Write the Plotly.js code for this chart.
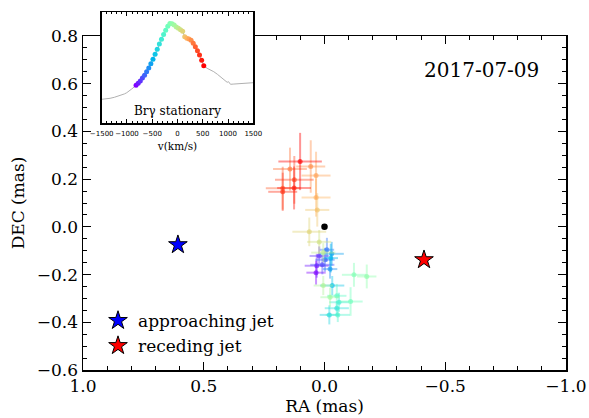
<!DOCTYPE html>
<html>
<head>
<meta charset="utf-8">
<script src="https://cdn.plot.ly/plotly-3.0.1.min.js"></script>
<style>html,body{margin:0;padding:0;background:#fff;}#chart{width:589px;height:418px;}</style>
</head>
<body>
<div id="chart"></div>
<script>
// ---- Data ----
// Spectral channel velocities (km/s) of the colored channels
const chanVel = [-820, -778, -736, -694, -652, -611, -569, -527, -485, -443, -401, -359, -317, -275, -234, -192, -150,
                 -108, -66, -24, 18, 60, 102, 143, 185, 227, 269, 311, 353, 395, 436, 478, 520];
// Normalized flux of the colored channels
const chanFlux = [1.070, 1.080, 1.092, 1.106, 1.120, 1.138, 1.157, 1.178, 1.200, 1.225, 1.250, 1.276, 1.300, 1.324, 1.345, 1.365, 1.379,
                  1.378, 1.372, 1.362, 1.355, 1.348, 1.340, 1.313, 1.305, 1.302, 1.295, 1.280, 1.263, 1.243, 1.222, 1.195, 1.168];
// Full spectrum (gray line)
const specV = [-1500, -1400, -1335, -1250, -1136, -1050, -1004, -950, -904, -838, -778, -736, -694, -652, -611, -569, -527, -485,
               -443, -401, -359, -317, -275, -234, -192, -150, -108, -66, -24, 18, 60, 102, 143, 185, 227, 269, 311, 353, 395,
               436, 478, 520, 586, 650, 718, 790, 851, 917, 960, 983, 1010, 1049, 1100, 1182, 1250, 1314, 1400, 1447, 1500];
const specF = [1.000, 1.002, 1.005, 1.010, 1.018, 1.027, 1.033, 1.042, 1.052, 1.066, 1.080, 1.092, 1.106, 1.120, 1.138, 1.157, 1.178, 1.200,
               1.225, 1.250, 1.276, 1.300, 1.324, 1.345, 1.365, 1.379, 1.378, 1.372, 1.362, 1.355, 1.348, 1.340, 1.313, 1.305, 1.302, 1.295, 1.280, 1.263, 1.243,
               1.222, 1.195, 1.168, 1.155, 1.147, 1.138, 1.125, 1.113, 1.097, 1.090, 1.085, 1.088, 1.075, 1.076, 1.077, 1.077, 1.078, 1.080, 1.081, 1.083];

// Photocentre offsets per channel (mas)
const ra  = [0.035, 0.032, 0.022, 0.009, -0.002, -0.010, -0.023, -0.030, -0.026, -0.032, -0.020, -0.051, -0.060, -0.055, -0.051, -0.108,
             -0.122, -0.175, -0.023, 0.005, 0.005, 0.022, 0.063, 0.030, 0.035, 0.035, 0.057, 0.143, 0.173, 0.125, 0.173, 0.126, 0.101];
const dec = [-0.192, -0.163, -0.122, -0.159, -0.138, -0.096, -0.177, -0.113, -0.131, -0.246, -0.369, -0.341, -0.316, -0.369, -0.289, -0.313,
             -0.201, -0.208, -0.295, -0.246, -0.108, -0.063, -0.021, 0.071, 0.123, 0.215, 0.253, 0.242, 0.162, 0.197, 0.147, 0.163, 0.274];
const raErr  = [0.04, 0.05, 0.04, 0.05, 0.04, 0.03, 0.03, 0.05, 0.03, 0.05, 0.04, 0.05, 0.04, 0.05, 0.04, 0.05,
                0.05, 0.04, 0.04, 0.04, 0.05, 0.05, 0.07, 0.05, 0.06, 0.06, 0.06, 0.07, 0.07, 0.08, 0.06, 0.07, 0.09];
const decErr = [0.05, 0.05, 0.04, 0.04, 0.05, 0.05, 0.04, 0.05, 0.06, 0.04, 0.04, 0.03, 0.04, 0.03, 0.05, 0.06,
                0.05, 0.05, 0.04, 0.04, 0.04, 0.05, 0.06, 0.07, 0.08, 0.10, 0.11, 0.09, 0.09, 0.10, 0.08, 0.09, 0.12];

// Jets and continuum centre
const jetNames = ['approaching jet', 'receding jet'];
const jetRA  = [0.607, -0.412];
const jetDEC = [-0.075, -0.138];
const jetColors = ['#0000ff', '#ff0000'];
const centreRA = [0.0];
const centreDEC = [0.0];

const dateLabel = '2017-07-09';
const insetLabel = 'Br\u03b3 stationary';

// ---- Style helpers ----
function rainbow(f) { // matplotlib "rainbow" colormap
  const r = Math.min(1, Math.abs(2 * f - 0.5));
  const g = Math.sin(Math.PI * f);
  const b = Math.cos(Math.PI * f / 2);
  return [Math.round(255 * r), Math.round(255 * g), Math.round(255 * b)];
}
const vmin = chanVel[0], vmax = chanVel[chanVel.length - 1];
function chanColor(i, a) {
  const c = rainbow((chanVel[i] - vmin) / (vmax - vmin));
  return 'rgba(' + c[0] + ',' + c[1] + ',' + c[2] + ',' + a + ')';
}

const SERIF = 'DejaVu Serif, serif';
const traces = [];

// main-plot channel points
for (let i = 0; i < ra.length; i++) {
  traces.push({
    type: 'scatter', mode: 'markers', x: [ra[i]], y: [dec[i]], xaxis: 'x', yaxis: 'y', showlegend: false,
    marker: { color: chanColor(i, 0.65), size: 5 },
    error_x: { type: 'data', array: [raErr[i]], color: chanColor(i, 0.42), thickness: 2, width: 0 },
    error_y: { type: 'data', array: [decErr[i]], color: chanColor(i, 0.42), thickness: 2, width: 0 },
    hoverinfo: 'skip'
  });
}
// centre
traces.push({ type: 'scatter', mode: 'markers', x: centreRA, y: centreDEC, xaxis: 'x', yaxis: 'y', showlegend: false,
  marker: { color: 'black', size: 6.5 } });
// jets
for (let j = 0; j < jetNames.length; j++) {
  traces.push({ type: 'scatter', mode: 'markers', name: jetNames[j], x: [jetRA[j]], y: [jetDEC[j]], xaxis: 'x', yaxis: 'y',
    marker: { symbol: 'star', color: jetColors[j], size: 14, line: { color: 'black', width: 1 } } });
}
// inset spectrum
traces.push({ type: 'scatter', mode: 'lines', x: specV, y: specF, xaxis: 'x2', yaxis: 'y2', showlegend: false,
  line: { color: '#b0b0b0', width: 1 } });
traces.push({ type: 'scatter', mode: 'markers', x: chanVel, y: chanFlux, xaxis: 'x2', yaxis: 'y2', showlegend: false,
  marker: { color: chanVel.map((v, i) => chanColor(i, 1)), size: 5 } });

const L = 83, R = 23, T = 10, B = 48, W = 589, H = 418;
const ph = H - T - B, pw = W - L - R;
const yTop = (H - B - 36) / ph;

const layout = {
  width: W, height: H,
  margin: { l: L, r: R, t: T, b: B, pad: 0 },
  paper_bgcolor: 'white', plot_bgcolor: 'white',
  font: { family: SERIF, color: 'black' },
  showlegend: true,
  legend: { x: (98 - L) / pw, y: (H - B - 303) / ph, xanchor: 'left', yanchor: 'top', bgcolor: 'rgba(0,0,0,0)',
    font: { family: SERIF, size: 17 }, tracegroupgap: 0, itemsizing: 'trace' },
  xaxis: {
    domain: [0, 1], anchor: 'y', range: [1.0, -1.0], dtick: 0.5, tick0: 0, tickformat: '.1f',
    ticks: 'inside', ticklen: 8, tickwidth: 1, tickcolor: 'black', mirror: 'ticks', showline: true, linecolor: 'black', linewidth: 1.5,
    showgrid: false, zeroline: false, tickfont: { family: SERIF, size: 17 },
    minor: { dtick: 0.1, ticks: 'inside', ticklen: 4, tickcolor: 'black', showgrid: false },
    title: { text: 'RA (mas)', font: { family: SERIF, size: 17 }, standoff: 2 }
  },
  yaxis: {
    domain: [0, yTop], anchor: 'x', range: [-0.6, 0.8], dtick: 0.2, tick0: 0, tickformat: '.1f',
    ticks: 'inside', ticklen: 8, tickwidth: 1, tickcolor: 'black', mirror: 'ticks', showline: true, linecolor: 'black', linewidth: 1.5,
    showgrid: false, zeroline: false, tickfont: { family: SERIF, size: 17 },
    minor: { dtick: 0.05, ticks: 'inside', ticklen: 4, tickcolor: 'black', showgrid: false },
    title: { text: 'DEC (mas)', font: { family: SERIF, size: 17 }, standoff: 8 }
  },
  xaxis2: {
    domain: [(101.7 - L) / pw, (253.3 - L) / pw], anchor: 'y2', range: [-1500, 1500], dtick: 500, tick0: 0, tickangle: 0,
    ticks: 'inside', ticklen: 4, tickcolor: 'black', mirror: 'ticks', showline: true, linecolor: 'black', linewidth: 1.5,
    showgrid: false, zeroline: false, tickfont: { family: 'DejaVu Sans, sans-serif', size: 7 }, ticklabelstandoff: 3,
    minor: { dtick: 100, ticks: 'inside', ticklen: 2, tickcolor: 'black', showgrid: false },
    title: { text: 'v(km/s)', font: { family: SERIF, size: 10.5 }, standoff: 5 }
  },
  yaxis2: {
    domain: [(H - B - 123.3) / ph, (H - B - 12.3) / ph], anchor: 'x2', range: [0.88, 1.435],
    showticklabels: false, ticks: '', mirror: true, showline: true, linecolor: 'black', linewidth: 1.5,
    showgrid: false, zeroline: false
  },
  annotations: [
    { text: dateLabel, xref: 'paper', yref: 'paper', x: (481 - L) / pw, y: (H - B - 70) / ph, xanchor: 'center', yanchor: 'middle',
      showarrow: false, font: { family: SERIF, size: 20 } },
    { text: insetLabel, xref: 'x2', yref: 'y2', x: 0, y: 0.942, xanchor: 'center', yanchor: 'middle',
      showarrow: false, font: { family: SERIF, size: 12 } }
  ]
};

Plotly.newPlot('chart', traces, layout, { staticPlot: true, displayModeBar: false });
</script>
</body>
</html>
